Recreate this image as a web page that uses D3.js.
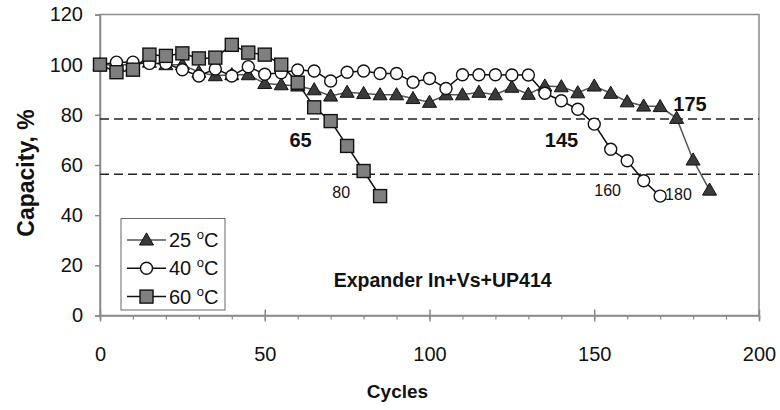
<!DOCTYPE html>
<html>
<head>
<meta charset="utf-8">
<script src="https://cdn.jsdelivr.net/npm/d3@7"></script>
<style>
  html, body { margin: 0; padding: 0; background: #fff; }
  svg { display: block; font-family: Arial, "Liberation Sans", sans-serif; }
</style>
</head>
<body>
<svg id="chart" width="780" height="410"></svg>
<script>
// ---------------- data ----------------
const cycles25 = [0,5,10,15,20,25,30,35,40,45,50,55,60,65,70,75,80,85,90,95,100,105,110,115,120,125,130,135,140,145,150,155,160,165,170,175,180,185];
const cap25    = [100,100,100,101,100,100,97,95.6,96,96,92.5,92,91.5,90,87.5,89,88.5,88,88,86.5,85,88,88,89,88,91,88.2,91.5,91.2,88.8,91.5,88.6,85.2,83.5,83.3,78.6,62,50];

const cycles40 = [0,5,10,15,20,25,30,35,40,45,50,55,60,65,70,75,80,85,90,95,100,105,110,115,120,125,130,135,140,145,150,155,160,165,170];
const cap40    = [100,101,101,100.5,100.5,98,95.5,98.3,95.5,99.2,96.2,96.8,97.9,97.5,93.5,97,97.5,96.5,96.5,93,94.5,90.5,96,96,96,95.9,95.9,88.6,85.6,82.2,76.3,66.3,61.7,53.7,47.6];

const cycles60 = [0,5,10,15,20,25,30,35,40,45,50,55,60,65,70,75,80,85];
const cap60    = [100,97,98,104,103.5,104.5,102.5,102.8,107.9,104.8,104,100,92.8,83,77.5,67.6,57.6,47.6];

const thresholds = [78.3, 56.3];

const xTicksMajor = [0,50,100,150,200];
const xTicksMinor = [0,10,20,30,40,50,60,70,80,90,100,110,120,130,140,150,160,170,180,190,200];
const yTicks = [0,20,40,60,80,100,120];

const legendLabels = ["25", "40", "60"];

// annotations: [cycle, value, text, bold]
const annCycles = [57.5, 70.5, 135, 150, 171.5, 174];
const annValues = [67, 47, 67, 47.5, 46, 81.5];
const annTexts  = ["65", "80", "145", "160", "180", "175"];
const annBold   = [true, false, true, false, false, true];

// ---------------- chart ----------------
const svg = d3.select("#chart");
const x = d3.scaleLinear().domain([0, 200]).range([100, 759]);
const y = d3.scaleLinear().domain([0, 120]).range([315.5, 14.5]);

const axisColor = "#8a8a8a";
const FONT = "Arial, 'Liberation Sans', sans-serif";

// frame (top & right)
svg.append("rect")
  .attr("x", x(0)).attr("y", y(120))
  .attr("width", x(200) - x(0)).attr("height", y(0) - y(120))
  .attr("fill", "none").attr("stroke", axisColor).attr("stroke-width", 1.5);

// Y axis
const gy = svg.append("g").attr("transform", `translate(${x(0)},0)`)
  .call(d3.axisLeft(y).tickValues(yTicks).tickSize(5).tickPadding(12).tickFormat(d3.format("d")));
gy.select(".domain").attr("stroke", axisColor).attr("stroke-width", 1.5);
gy.selectAll(".tick line").attr("stroke", axisColor).attr("stroke-width", 1.5);
gy.selectAll(".tick text").attr("font-size", 20).attr("fill", "#111").attr("font-family", FONT);

// X axis minor ticks
const gxm = svg.append("g").attr("transform", `translate(0,${y(0)})`)
  .call(d3.axisBottom(x).tickValues(xTicksMinor).tickSize(4).tickFormat(""));
gxm.select(".domain").attr("stroke", axisColor).attr("stroke-width", 1.5);
gxm.selectAll(".tick line").attr("stroke", axisColor).attr("stroke-width", 1.2);

// X axis major ticks (crossing)
const gxM = svg.append("g").attr("transform", `translate(0,${y(0)})`)
  .call(d3.axisBottom(x).tickValues(xTicksMajor).tickSize(6).tickFormat(d3.format("d")));
gxM.select(".domain").remove();
gxM.selectAll(".tick line").attr("stroke", axisColor).attr("stroke-width", 1.5);
gxM.selectAll(".tick text").attr("font-size", 20).attr("fill", "#111")
  .attr("y", 45).attr("dy", 0).attr("font-family", FONT);
const gxT = svg.append("g").attr("transform", `translate(0,${y(0)})`)
  .call(d3.axisTop(x).tickValues(xTicksMajor).tickSize(6).tickFormat(""));
gxT.select(".domain").remove();
gxT.selectAll(".tick line").attr("stroke", axisColor).attr("stroke-width", 1.5);

// axis titles
svg.append("text")
  .attr("x", (x(0) + x(200)) / 2 - 32).attr("y", 398)
  .attr("text-anchor", "middle").attr("font-size", 19).attr("font-weight", "bold").attr("fill", "#111")
  .text("Cycles");
svg.append("text")
  .attr("transform", `translate(34,${(y(0) + y(120)) / 2 + 8}) rotate(-90)`)
  .attr("text-anchor", "middle").attr("font-size", 23).attr("font-weight", "bold").attr("fill", "#111")
  .text("Capacity, %");

// threshold dashed lines
svg.append("g").selectAll("line").data(thresholds).join("line")
  .attr("x1", x(0)).attr("x2", x(200))
  .attr("y1", d => y(d)).attr("y2", d => y(d))
  .attr("stroke", "#222").attr("stroke-width", 1.5).attr("stroke-dasharray", "9,5");

// series
const line = d3.line().x(d => x(d[0])).y(d => y(d[1]));
const s25 = d3.zip(cycles25, cap25);
const s40 = d3.zip(cycles40, cap40);
const s60 = d3.zip(cycles60, cap60);

const triSym = d3.symbol().type(d3.symbolTriangle).size(85);
const sqSize = 13;

function drawTri(g, cx, cy) {
  g.append("path").attr("d", triSym()).attr("transform", `translate(${cx},${cy + 1})`)
    .attr("fill", "#3a3a3a").attr("stroke", "#111").attr("stroke-width", 1);
}
function drawCirc(g, cx, cy) {
  g.append("circle").attr("cx", cx).attr("cy", cy).attr("r", 6)
    .attr("fill", "#fff").attr("stroke", "#111").attr("stroke-width", 1.4);
}
function drawSq(g, cx, cy) {
  g.append("rect").attr("x", cx - sqSize / 2).attr("y", cy - sqSize / 2)
    .attr("width", sqSize).attr("height", sqSize)
    .attr("fill", "#7f7f7f").attr("stroke", "#111").attr("stroke-width", 1.4);
}

const g25 = svg.append("g");
g25.append("path").attr("d", line(s25)).attr("fill", "none").attr("stroke", "#555").attr("stroke-width", 1.5);
s25.forEach(d => drawTri(g25, x(d[0]), y(d[1])));

const g40 = svg.append("g");
g40.append("path").attr("d", line(s40)).attr("fill", "none").attr("stroke", "#111").attr("stroke-width", 1.5);
s40.forEach(d => drawCirc(g40, x(d[0]), y(d[1])));

const g60 = svg.append("g");
g60.append("path").attr("d", line(s60)).attr("fill", "none").attr("stroke", "#111").attr("stroke-width", 1.5);
s60.forEach(d => drawSq(g60, x(d[0]), y(d[1])));

// annotations
annTexts.forEach((t, i) => {
  svg.append("text")
    .attr("x", x(annCycles[i])).attr("y", y(annValues[i]))
    .attr("font-size", annBold[i] ? 20 : 16)
    .attr("font-weight", annBold[i] ? "bold" : "normal")
    .attr("fill", "#111").text(t);
});

// label inside plot
svg.append("text")
  .attr("x", x(104)).attr("y", y(11.5))
  .attr("text-anchor", "middle").attr("font-size", 19.5).attr("font-weight", "bold").attr("fill", "#111")
  .text("Expander In+Vs+UP414");

// legend
const lg = svg.append("g");
lg.append("rect").attr("x", 121).attr("y", 218.5).attr("width", 104).attr("height", 91.5)
  .attr("fill", "#fff").attr("stroke", "#666").attr("stroke-width", 1);
const drawers = [drawTri, drawCirc, drawSq];
legendLabels.forEach((lab, i) => {
  const cy = 240 + i * 28.3;
  lg.append("line").attr("x1", 127).attr("x2", 166).attr("y1", cy).attr("y2", cy)
    .attr("stroke", i === 0 ? "#555" : "#111").attr("stroke-width", 1.5);
  drawers[i](lg, 146.5, cy);
  const tx = lg.append("text").attr("x", 169).attr("y", cy + 7).attr("font-size", 20).attr("fill", "#111");
  tx.append("tspan").text(lab + " ");
  tx.append("tspan").attr("font-size", 13).attr("dy", -8).text("o");
  tx.append("tspan").attr("dy", 8).text("C");
});
</script>
</body>
</html>
